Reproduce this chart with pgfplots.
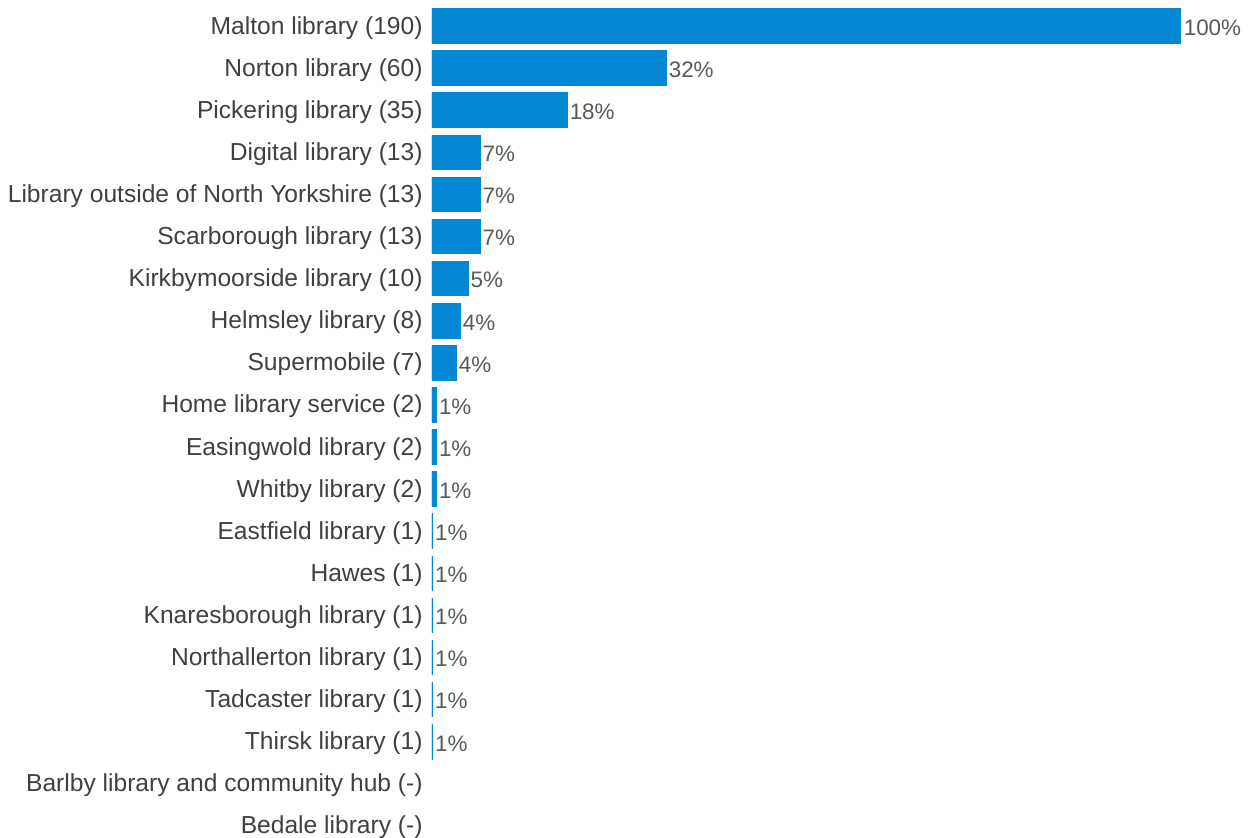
\documentclass[border=0pt]{standalone}
\usepackage{fontspec}
\setmainfont{Liberation Sans}
\usepackage{pgfplots}
\pgfplotsset{compat=1.18}
\definecolor{barblue}{HTML}{0588D3}
\definecolor{labgray}{HTML}{404040}
\definecolor{pctgray}{HTML}{595959}
\begin{document}
\begin{tikzpicture}[x=0.5pt,y=0.5pt]
\begin{axis}[
  at={(432pt*0.5,-5pt*0.5)}, anchor=north west,
  scale only axis,
  width=374.5pt, height=421pt,
  xmin=0.93, xmax=190,
  ymin=-0.5, ymax=19.5,
  y dir=reverse,
  axis line style={draw=none},
  xtick=\empty,
  tick style={draw=none},
  xbar, bar width=17pt,
  ytick={0,...,19},
  yticklabels={Malton library (190),Norton library (60),Pickering library (35),Digital library (13),Library outside of North Yorkshire (13),Scarborough library (13),Kirkbymoorside library (10),Helmsley library (8),Supermobile (7),Home library service (2),Easingwold library (2),Whitby library (2),Eastfield library (1),Hawes (1),Knaresborough library (1),Northallerton library (1),Tadcaster library (1),Thirsk library (1),Barlby library and community hub (-),Bedale library (-)},
  major tick length=0pt,
  yticklabel style={font=\fontsize{12.3pt}{14pt}\selectfont, text=labgray, inner sep=0pt, xshift=-4.5pt, yshift=-0.8pt},
  point meta=explicit symbolic,
  nodes near coords,
  nodes near coords style={font=\fontsize{11.2pt}{13pt}\selectfont, text=pctgray, anchor=west, inner sep=1pt, yshift=-0.8pt},
]
\addplot[fill=barblue, draw=barblue, line width=0.8pt] coordinates {
(190,0) [100\%]
(60,1) [32\%]
(35,2) [18\%]
(13,3) [7\%]
(13,4) [7\%]
(13,5) [7\%]
(10,6) [5\%]
(8,7) [4\%]
(7,8) [4\%]
(2,9) [1\%]
(2,10) [1\%]
(2,11) [1\%]
(1,12) [1\%]
(1,13) [1\%]
(1,14) [1\%]
(1,15) [1\%]
(1,16) [1\%]
(1,17) [1\%]
};
\end{axis}
\pgfresetboundingbox
\path[use as bounding box] (0pt,0pt) rectangle (625pt,-419pt);
\end{tikzpicture}
\end{document}
